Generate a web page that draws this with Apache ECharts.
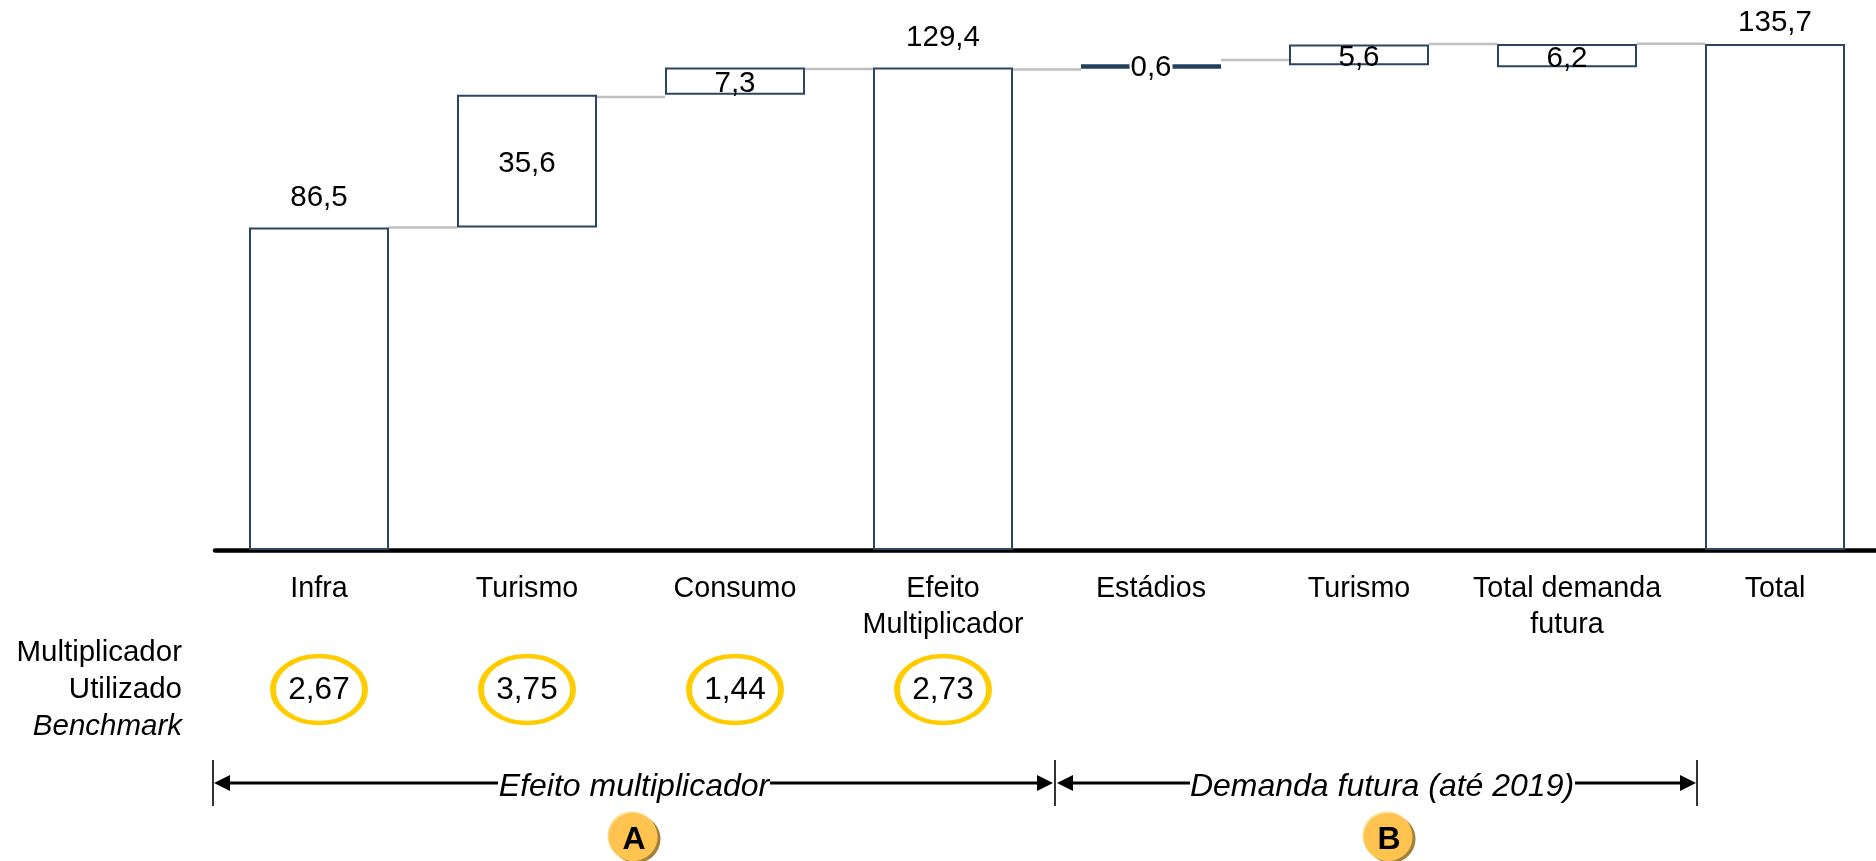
<!DOCTYPE html>
<html>
<head>
<meta charset="utf-8">
<title>Efeito multiplicador</title>
<script src="https://cdn.jsdelivr.net/npm/echarts@6/dist/echarts.min.js"></script>
<style>
  html, body { margin: 0; padding: 0; background: #fff; }
  #chart { width: 1876px; height: 861px; }
</style>
</head>
<body>
<div id="chart"></div>
<script>
const categories = ['Infra', 'Turismo', 'Consumo', 'Efeito\nMultiplicador', 'Estádios', 'Turismo', 'Total demanda\nfutura', 'Total'];
const values = [86.5, 35.6, 7.3, 129.4, 0.6, 5.6, 6.2, 135.7];
const bases = [0, 86.5, 122.1, 0, 129.4, 130.0, 129.5, 0];
const connectorLevels = [86.5, 121.5, 129.0, 128.9, 131.4, 135.7, 135.8];
const multipliers = [2.67, 3.75, 1.44, 2.73];
const rowLabel = '{n|Multiplicador}\n{n|Utilizado}\n{i|Benchmark}';

const FONT = '"Liberation Sans", Arial, sans-serif';
const BAR_COLOR = '#2B4566';
const BAR_WIDTH = 140;
const comma = (v, digits) => v.toFixed(digits).replace('.', ',');

const isTotal = i => bases[i] === 0;
const isThin = i => values[i] < 1;

// totals carry the label above the bar, the steps keep it inside
const barLabel = i => {
  if (isTotal(i)) return { position: 'top', distance: i === values.length - 1 ? 6 : 15 };
  if (isThin(i)) return { position: 'inside', offset: [0, 1], backgroundColor: '#fff', padding: [0, 1] };
  return { position: 'inside', offset: [0, 3] };
};

const chart = echarts.init(document.getElementById('chart'), null, { renderer: 'canvas' });

// brackets under the chart
const BRACKET_Y = 783;
const arrow = (tip, dir) => ({
  type: 'polygon',
  shape: { points: [[tip, BRACKET_Y], [tip + dir * 16, BRACKET_Y - 8], [tip + dir * 16, BRACKET_Y + 8]] },
  style: { fill: '#000' }
});
const hline = (x1, x2) => ({
  type: 'line',
  shape: { x1, x2, y1: BRACKET_Y, y2: BRACKET_Y },
  style: { stroke: '#000', lineWidth: 3 }
});
const tick = x => ({
  type: 'line',
  shape: { x1: x, x2: x, y1: 760, y2: 806 },
  style: { stroke: '#000', lineWidth: 1.6 }
});
const bracketText = (text, x) => ({
  type: 'text',
  x,
  y: 787,
  style: { text, font: 'italic 32px ' + FONT, fill: '#000', align: 'center', verticalAlign: 'middle' }
});
const badge = (text, x) => ({
  type: 'group',
  children: [
    { type: 'ellipse', shape: { cx: x + 3, cy: 839, rx: 24.5, ry: 24 }, style: { fill: '#A3813A' } },
    { type: 'ellipse', shape: { cx: x - 1, cy: 835, rx: 24.5, ry: 23.5 }, style: { fill: '#FFDF9E' } },
    { type: 'ellipse', shape: { cx: x, cy: 837, rx: 24.5, ry: 24 }, style: { fill: '#FFC34F' } },
    {
      type: 'text',
      x: x + 1,
      y: 840,
      style: { text, font: 'bold 32px ' + FONT, fill: '#000', align: 'center', verticalAlign: 'middle' }
    }
  ]
});

const option = {
  animation: false,
  textStyle: { fontFamily: FONT },
  grid: [
    { left: 215, width: 1664, top: 28, height: 522, outerBoundsMode: 'none' },
    { left: 215, width: 1664, top: 641.5, height: 96, outerBoundsMode: 'none' }
  ],
  xAxis: [
    {
      type: 'category',
      gridIndex: 0,
      data: categories,
      axisLine: { lineStyle: { color: '#000', width: 4.5, cap: 'round' } },
      axisTick: { show: false },
      axisLabel: { color: '#000', fontSize: 28.7, lineHeight: 36, margin: 21, interval: 0, fontFamily: FONT }
    },
    { type: 'category', gridIndex: 1, data: categories, show: false }
  ],
  yAxis: [
    { type: 'value', gridIndex: 0, min: 0, max: 140, show: false },
    {
      type: 'category',
      gridIndex: 1,
      data: [rowLabel],
      axisLine: { show: false },
      axisTick: { show: false },
      axisLabel: {
        margin: 33,
        rich: {
          n: { fontSize: 29.5, lineHeight: 37, color: '#000', fontFamily: FONT },
          i: { fontSize: 29.5, lineHeight: 37, color: '#000', fontFamily: FONT, fontStyle: 'italic' }
        }
      }
    }
  ],
  series: [
    {
      // connectors between the bars
      type: 'custom',
      xAxisIndex: 0,
      yAxisIndex: 0,
      z: 1,
      silent: true,
      data: connectorLevels.map((level, i) => [i, level]),
      renderItem: (params, api) => {
        const start = api.coord([api.value(0), api.value(1)]);
        const step = api.size([1, 0])[0];
        return {
          type: 'line',
          shape: {
            x1: start[0] + BAR_WIDTH / 2,
            y1: start[1],
            x2: start[0] + step - BAR_WIDTH / 2,
            y2: start[1]
          },
          style: { stroke: '#BFBFBF', lineWidth: 2.5 }
        };
      }
    },
    {
      // a bar this thin cannot hold a wide border, so it gets a heavy line
      type: 'custom',
      xAxisIndex: 0,
      yAxisIndex: 0,
      z: 1,
      silent: true,
      data: values.map((v, i) => [i, bases[i] + v / 2]).filter(d => isThin(d[0])),
      renderItem: (params, api) => {
        const mid = api.coord([api.value(0), api.value(1)]);
        return {
          type: 'line',
          shape: { x1: mid[0] - BAR_WIDTH / 2, y1: mid[1], x2: mid[0] + BAR_WIDTH / 2, y2: mid[1] },
          style: { stroke: '#24405F', lineWidth: 4.5 }
        };
      }
    },
    {
      type: 'bar',
      stack: 'fall',
      xAxisIndex: 0,
      yAxisIndex: 0,
      barWidth: BAR_WIDTH,
      silent: true,
      itemStyle: { color: 'transparent', borderWidth: 0 },
      data: bases
    },
    {
      type: 'bar',
      stack: 'fall',
      xAxisIndex: 0,
      yAxisIndex: 0,
      barWidth: BAR_WIDTH,
      z: 2,
      itemStyle: { color: '#fff', borderColor: BAR_COLOR, borderWidth: 2 },
      data: values.map((v, i) => ({
        value: v,
        label: barLabel(i),
        itemStyle: isThin(i) ? { color: '#24405F', borderColor: '#24405F' } : undefined
      })),
      label: {
        show: true,
        color: '#000',
        fontSize: 29.5,
        fontFamily: FONT,
        formatter: p => comma(p.value, 1)
      }
    },
    {
      type: 'scatter',
      xAxisIndex: 1,
      yAxisIndex: 1,
      symbol: 'circle',
      symbolSize: [92, 67],
      itemStyle: { color: '#fff', borderColor: '#FFCC00', borderWidth: 5, opacity: 1 },
      data: multipliers.map((m, i) => [i, 0, m]),
      label: {
        show: true,
        position: 'inside',
        offset: [0, 1],
        color: '#000',
        fontSize: 31.5,
        fontFamily: FONT,
        formatter: p => comma(p.value[2], 2)
      }
    }
  ],
  graphic: {
    elements: [
      tick(213), tick(1055), tick(1697),
      hline(226, 498), hline(770, 1038), hline(1072, 1190), hline(1575, 1682),
      arrow(214, 1), arrow(1053, -1), arrow(1057, 1), arrow(1696, -1),
      bracketText('Efeito multiplicador', 634),
      bracketText('Demanda futura (até 2019)', 1382),
      badge('A', 633),
      badge('B', 1388)
    ]
  }
};

chart.setOption(option);
</script>
</body>
</html>
